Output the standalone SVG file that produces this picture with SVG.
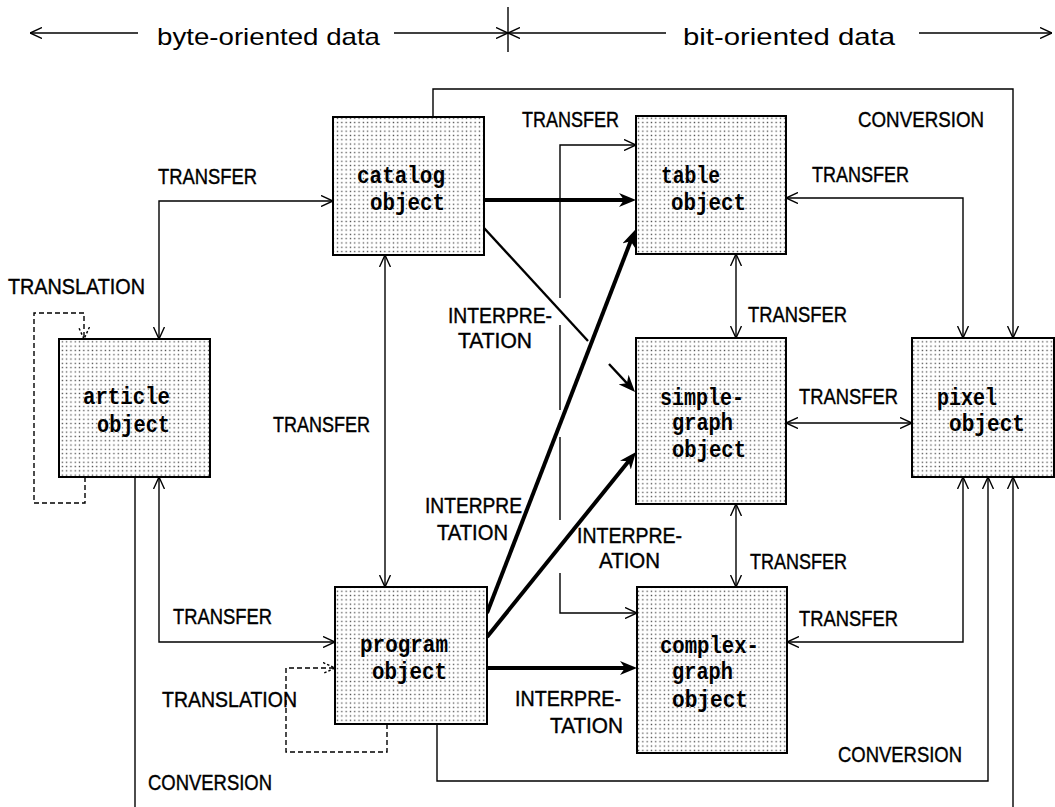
<svg xmlns="http://www.w3.org/2000/svg" width="1055" height="807" viewBox="0 0 1055 807">
<defs>
<pattern id="dots" width="4.3" height="4.3" patternUnits="userSpaceOnUse"><rect width="4.3" height="4.3" fill="#fff"/><rect x="1.5" y="1.5" width="1.3" height="1.3" fill="#444"/></pattern>
<marker id="a" viewBox="0 0 12 12" refX="12" refY="6" markerWidth="12" markerHeight="12" markerUnits="userSpaceOnUse" orient="auto-start-reverse"><path d="M0,0.5 L12,6 L0,11.5" fill="none" stroke="#000" stroke-width="1.4"/></marker>
<marker id="d" viewBox="0 0 12 12" refX="12" refY="6" markerWidth="12" markerHeight="12" markerUnits="userSpaceOnUse" orient="auto"><path d="M0,0.5 L12,6 L0,11.5" fill="none" stroke="#000" stroke-width="1.4" stroke-dasharray="2.5 2"/></marker>
<marker id="t" viewBox="0 0 17 14" refX="9" refY="7" markerWidth="17" markerHeight="14" markerUnits="userSpaceOnUse" orient="auto"><path d="M0,0 L17,7 L0,14 L5,7 z" fill="#000"/></marker>
</defs>
<style>
.box{fill:url(#dots);stroke:#000;stroke-width:2}
.nt{font-family:"Liberation Mono","DejaVu Sans Mono",monospace;font-size:23px;font-weight:bold;fill:#000}
.lbl{font-family:"Liberation Sans Narrow","Liberation Sans",sans-serif;font-size:22px;fill:#000;stroke:#000;stroke-width:0.4}
.hd{font-family:"Liberation Sans Narrow","Liberation Sans",sans-serif;font-size:24px;fill:#000}
.c{fill:none;stroke:#000;stroke-width:1.4}
.ds{stroke-dasharray:5 3}
.th{fill:none;stroke:#000;stroke-width:4}
.md{fill:none;stroke:#000;stroke-width:2.4}
</style>

<g id="header">
<path class="c" d="M30,33 H138" marker-start="url(#a)"/>
<path class="c" d="M394,33 H508" marker-end="url(#a)"/>
<path class="c" d="M508,33 H666" marker-start="url(#a)"/>
<path class="c" d="M919,33 H1052" marker-end="url(#a)"/>
<path class="c" d="M508,7 V52"/>
<text class="hd" x="157" y="45" textLength="223" lengthAdjust="spacingAndGlyphs">byte-oriented data</text>
<text class="hd" x="683" y="45" textLength="212" lengthAdjust="spacingAndGlyphs">bit-oriented data</text>
</g>

<g id="connectors">
<path class="c" d="M159,339 V201 H333" marker-start="url(#a)" marker-end="url(#a)"/>
<path class="c" d="M159,477 V642 H335" marker-start="url(#a)" marker-end="url(#a)"/>
<path class="c" d="M385,255 V587" marker-start="url(#a)" marker-end="url(#a)"/>
<path class="c" d="M433,117 V89 H1013 V338" marker-end="url(#a)"/>
<path class="c" d="M437,724 V781 H988 V477" marker-end="url(#a)"/>
<path class="c" d="M135,477 V807"/>
<path class="c" d="M1013,807 V477" marker-end="url(#a)"/>
<path class="c" d="M786,198 H963 V338" marker-start="url(#a)" marker-end="url(#a)"/>
<path class="c" d="M787,642 H963 V477" marker-start="url(#a)" marker-end="url(#a)"/>
<path class="c" d="M786,423 H912" marker-start="url(#a)" marker-end="url(#a)"/>
<path class="c" d="M736,254 V338" marker-start="url(#a)" marker-end="url(#a)"/>
<path class="c" d="M736,504 V587" marker-start="url(#a)" marker-end="url(#a)"/>
<path class="c" d="M560,298 V145 H636" marker-end="url(#a)"/>
<path class="c" d="M560,325 V410"/>
<path class="c" d="M560,437 V520"/>
<path class="c" d="M560,573 V613 H637" marker-end="url(#a)"/>
<path class="c ds" d="M85,477 V503 H34 V313 H84 V339" marker-end="url(#d)"/>
<path class="c ds" d="M387,724 V752 H286 V668 H335" marker-end="url(#d)"/>
<path class="th" d="M484,200 H628" marker-end="url(#t)"/>
<path class="th" d="M487,613 L632.1,237.5" marker-end="url(#t)"/>
<path class="th" d="M487,637 L631,458.2" marker-end="url(#t)"/>
<path class="th" d="M487,668 H629" marker-end="url(#t)"/>
<path class="md" d="M484,228 L588,341"/>
<path class="md" d="M609,364 L629.6,386.1" marker-end="url(#t)"/>
<text class="lbl" x="158" y="184" textLength="99" lengthAdjust="spacingAndGlyphs">TRANSFER</text>
<text class="lbl" x="8" y="294" textLength="137" lengthAdjust="spacingAndGlyphs">TRANSLATION</text>
<text class="lbl" x="273" y="432" textLength="97" lengthAdjust="spacingAndGlyphs">TRANSFER</text>
<text class="lbl" x="448" y="323" textLength="104" lengthAdjust="spacingAndGlyphs">INTERPRE-</text>
<text class="lbl" x="458" y="348" textLength="74" lengthAdjust="spacingAndGlyphs">TATION</text>
<text class="lbl" x="425" y="513" textLength="97" lengthAdjust="spacingAndGlyphs">INTERPRE</text>
<text class="lbl" x="437" y="540" textLength="71" lengthAdjust="spacingAndGlyphs">TATION</text>
<text class="lbl" x="577" y="543" textLength="105" lengthAdjust="spacingAndGlyphs">INTERPRE-</text>
<text class="lbl" x="599" y="568" textLength="61" lengthAdjust="spacingAndGlyphs">ATION</text>
<text class="lbl" x="515" y="706" textLength="106" lengthAdjust="spacingAndGlyphs">INTERPRE-</text>
<text class="lbl" x="550" y="733" textLength="73" lengthAdjust="spacingAndGlyphs">TATION</text>
<text class="lbl" x="173" y="624" textLength="99" lengthAdjust="spacingAndGlyphs">TRANSFER</text>
<text class="lbl" x="162" y="707" textLength="135" lengthAdjust="spacingAndGlyphs">TRANSLATION</text>
<text class="lbl" x="148" y="790" textLength="124" lengthAdjust="spacingAndGlyphs">CONVERSION</text>
<text class="lbl" x="522" y="127" textLength="97" lengthAdjust="spacingAndGlyphs">TRANSFER</text>
<text class="lbl" x="858" y="127" textLength="126" lengthAdjust="spacingAndGlyphs">CONVERSION</text>
<text class="lbl" x="812" y="182" textLength="97" lengthAdjust="spacingAndGlyphs">TRANSFER</text>
<text class="lbl" x="748" y="322" textLength="99" lengthAdjust="spacingAndGlyphs">TRANSFER</text>
<text class="lbl" x="799" y="404" textLength="99" lengthAdjust="spacingAndGlyphs">TRANSFER</text>
<text class="lbl" x="750" y="569" textLength="97" lengthAdjust="spacingAndGlyphs">TRANSFER</text>
<text class="lbl" x="799" y="626" textLength="99" lengthAdjust="spacingAndGlyphs">TRANSFER</text>
<text class="lbl" x="838" y="762" textLength="124" lengthAdjust="spacingAndGlyphs">CONVERSION</text>
</g>

<g id="catalog">
<rect class="box" x="333" y="117" width="151" height="138"/>
<text class="nt" x="357" y="183" textLength="88" lengthAdjust="spacingAndGlyphs">catalog</text>
<text class="nt" x="370" y="210" textLength="75" lengthAdjust="spacingAndGlyphs">object</text>
</g>
<g id="table">
<rect class="box" x="636" y="116" width="150" height="138"/>
<text class="nt" x="661" y="183" textLength="59" lengthAdjust="spacingAndGlyphs">table</text>
<text class="nt" x="671" y="210" textLength="75" lengthAdjust="spacingAndGlyphs">object</text>
</g>
<g id="article">
<rect class="box" x="59" y="339" width="151" height="138"/>
<text class="nt" x="83" y="404" textLength="87" lengthAdjust="spacingAndGlyphs">article</text>
<text class="nt" x="97" y="432" textLength="73" lengthAdjust="spacingAndGlyphs">object</text>
</g>
<g id="simple-graph">
<rect class="box" x="636" y="338" width="150" height="166"/>
<text class="nt" x="660" y="405" textLength="84" lengthAdjust="spacingAndGlyphs">simple-</text>
<text class="nt" x="672" y="430" textLength="61" lengthAdjust="spacingAndGlyphs">graph</text>
<text class="nt" x="672" y="457" textLength="74" lengthAdjust="spacingAndGlyphs">object</text>
</g>
<g id="pixel">
<rect class="box" x="912" y="338" width="142" height="139"/>
<text class="nt" x="937" y="405" textLength="60" lengthAdjust="spacingAndGlyphs">pixel</text>
<text class="nt" x="949" y="431" textLength="76" lengthAdjust="spacingAndGlyphs">object</text>
</g>
<g id="program">
<rect class="box" x="335" y="587" width="152" height="137"/>
<text class="nt" x="360" y="652" textLength="88" lengthAdjust="spacingAndGlyphs">program</text>
<text class="nt" x="372" y="679" textLength="75" lengthAdjust="spacingAndGlyphs">object</text>
</g>
<g id="complex-graph">
<rect class="box" x="637" y="587" width="150" height="166"/>
<text class="nt" x="660" y="653" textLength="99" lengthAdjust="spacingAndGlyphs">complex-</text>
<text class="nt" x="672" y="679" textLength="61" lengthAdjust="spacingAndGlyphs">graph</text>
<text class="nt" x="672" y="707" textLength="76" lengthAdjust="spacingAndGlyphs">object</text>
</g>
</svg>
